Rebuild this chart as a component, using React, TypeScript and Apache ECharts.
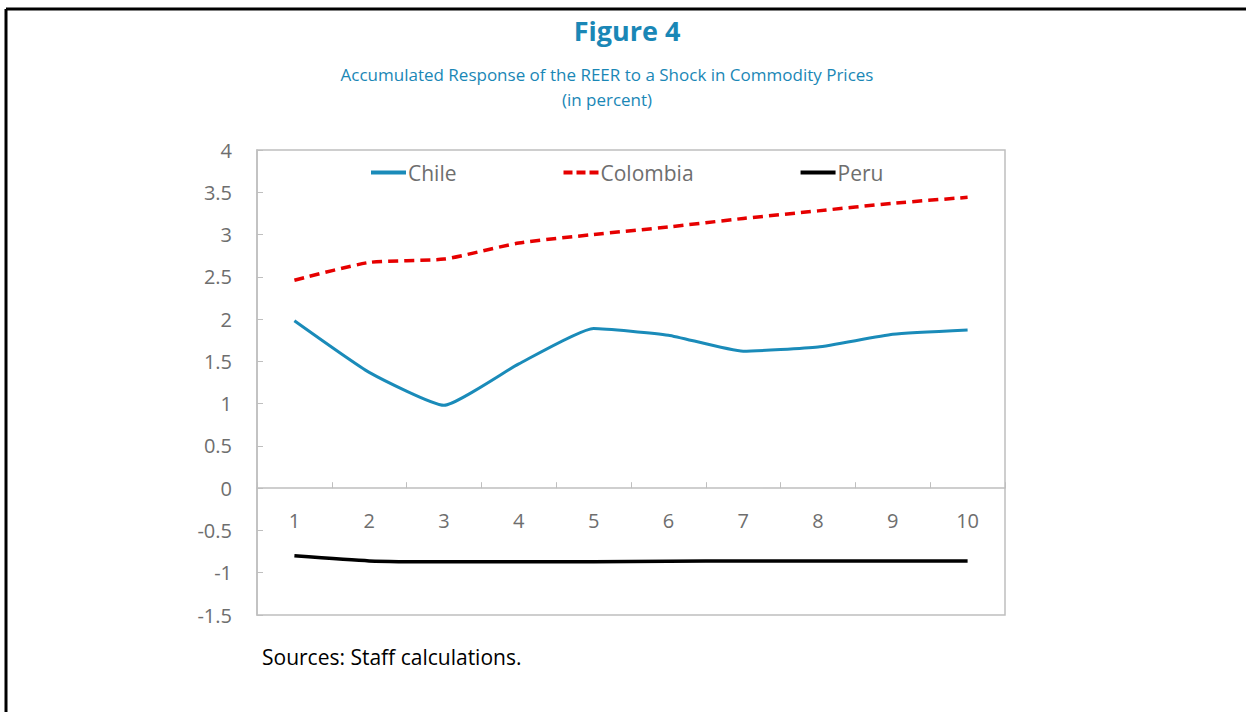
import React, { useEffect, useRef } from "react";
import * as echarts from "echarts";

const periods = ["1", "2", "3", "4", "5", "6", "7", "8", "9", "10"];
const chile = [1.98, 1.37, 0.98, 1.47, 1.89, 1.81, 1.62, 1.67, 1.82, 1.87];
const colombia = [2.46, 2.67, 2.71, 2.9, 3.0, 3.09, 3.19, 3.28, 3.37, 3.44];
const peru = [-0.8, -0.86, -0.87, -0.87, -0.87, -0.865, -0.86, -0.86, -0.86, -0.86];
const yMin = -1.5;
const yMax = 4;

const FONT = "'Open Sans', 'Noto Sans', sans-serif";
const BLUE = "#1a87b6";
const GRAY = "#6e6e6e";

const GRID_TOP = 150;
const GRID_H = 465;

export default function App() {
  const ref = useRef<HTMLDivElement>(null);
  useEffect(() => {
    if (!ref.current) return;
    const chart = echarts.init(ref.current, null, { renderer: "svg" });
    const zeroOffset = -((0 - yMin) / (yMax - yMin)) * GRID_H;
    const solid = "path://M0,0H35V4H0Z";
    const dashed = "path://M0,0H9V4H0Z M13,0H22V4H13Z M26,0H35V4H26Z";
    chart.setOption({
      animation: false,
      backgroundColor: "#ffffff",
      textStyle: { fontFamily: FONT },
      title: [
        {
          text: "Figure 4",
          left: 622,
          top: 12,
          textAlign: "center",
          textStyle: { fontFamily: FONT, fontSize: 27, fontWeight: "bold", color: BLUE },
        },
        {
          text: "Accumulated Response of the REER to a Shock in Commodity Prices\n(in percent)",
          left: 602,
          top: 57,
          textAlign: "center",
          textStyle: { fontFamily: FONT, fontSize: 17, fontWeight: "normal", color: BLUE, lineHeight: 25, align: "center" },
        },
      ],
      legend: {
        left: 366,
        top: 157,
        itemGap: 107,
        itemWidth: 35,
        itemHeight: 4,
        textStyle: { fontFamily: FONT, fontSize: 21, color: GRAY, padding: [0, 0, 0, -3] },
        data: [
          { name: "Chile", icon: solid },
          { name: "Colombia", icon: dashed },
          { name: "Peru", icon: solid },
        ],
      },
      grid: {
        left: 257,
        top: GRID_TOP,
        width: 748,
        height: GRID_H,
        show: true,
        borderColor: "#bfbfbf",
        borderWidth: 1.5,
        containLabel: false,
      },
      xAxis: {
        type: "category",
        data: periods,
        boundaryGap: true,
        position: "bottom",
        offset: zeroOffset,
        axisLine: { onZero: false, lineStyle: { color: "#bfbfbf", width: 1.5 } },
        axisTick: { show: true, inside: true, length: 6, lineStyle: { color: "#bfbfbf" } },
        axisLabel: { fontFamily: FONT, fontSize: 20, color: GRAY, margin: 22 },
        splitLine: { show: false },
      },
      yAxis: {
        type: "value",
        min: yMin,
        max: yMax,
        interval: 0.5,
        axisLine: { show: true, lineStyle: { color: "#bfbfbf", width: 1.5 } },
        axisTick: { show: true, inside: true, length: 6, lineStyle: { color: "#bfbfbf" } },
        axisLabel: { fontFamily: FONT, fontSize: 20, color: GRAY, margin: 25 },
        splitLine: { show: false },
      },
      series: [
        {
          name: "Chile",
          type: "line",
          data: chile,
          symbol: "none",
          smooth: 0.15,
          lineStyle: { color: "#1a8bb9", width: 3 },
          itemStyle: { color: "#1a8bb9" },
        },
        {
          name: "Colombia",
          type: "line",
          data: colombia,
          symbol: "none",
          smooth: 0.2,
          lineStyle: { color: "#e60000", width: 3.5, type: [10, 6] },
          itemStyle: { color: "#e60000" },
        },
        {
          name: "Peru",
          type: "line",
          data: peru,
          symbol: "none",
          smooth: 0.2,
          lineStyle: { color: "#000000", width: 3.5 },
          itemStyle: { color: "#000000" },
        },
      ],
      graphic: [
        {
          type: "line",
          shape: { x1: 6, y1: 9, x2: 6, y2: 712 },
          style: { stroke: "#000", lineWidth: 3 },
        },
        {
          type: "line",
          shape: { x1: 6, y1: 9, x2: 1246, y2: 9 },
          style: { stroke: "#000", lineWidth: 3 },
        },
        {
          type: "text",
          left: 262,
          top: 646,
          style: { text: "Sources: Staff calculations.", fontFamily: FONT, fontSize: 21, fill: "#000" },
        },
      ],
    });
    return () => chart.dispose();
  }, []);
  return (
    <div
      ref={ref}
      style={{ position: "absolute", left: 0, top: 0, width: 1246, height: 712 }}
    />
  );
}
